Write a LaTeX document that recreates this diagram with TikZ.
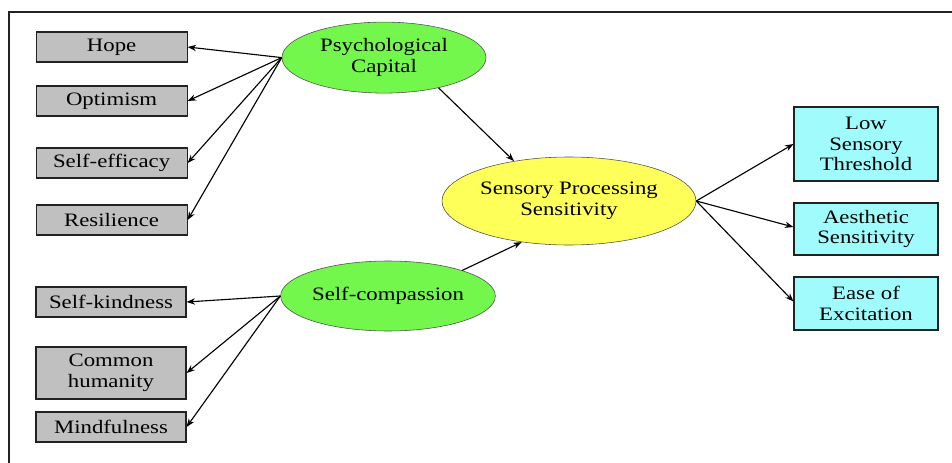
\documentclass[tikz,border=0pt]{standalone}
\usepackage{fontspec}
\setmainfont{Liberation Serif}[FakeStretch=1.2]
\usetikzlibrary{arrows.meta,shapes.geometric}
\definecolor{dimbox}{HTML}{C0C0C0}
\definecolor{latgreen}{HTML}{74F74C}
\definecolor{latyellow}{HTML}{FFFF5A}
\definecolor{outcyan}{HTML}{A0FCFC}
\definecolor{edge}{HTML}{222222}

\begin{document}
\begin{tikzpicture}[
  dim/.style={fill=dimbox, draw=edge, thick, minimum width=3.775cm,
              minimum height=0.75cm, align=center, inner sep=1pt},
  latent/.style={ellipse, draw=edge!80, align=center, inner sep=0pt},
  outbox/.style={fill=outcyan, draw=edge, thick, minimum width=3.6cm,
                 align=center, inner sep=1pt},
  path/.style={-{Stealth[length=6pt,width=4.5pt]}, black, thick},
  every node/.style={font=\fontsize{13.5}{14.8}\selectfont}
]
  \useasboundingbox (0,0) rectangle (23.8,-11.575);
  \draw[thick, edge] (0.225,-11.575) -- (0.225,-0.3) -- (23.8,-0.3);

  % ── Left: Psychological Capital dimensions ──
  \node[dim] (hope) at (2.79,-1.175) {Hope};
  \node[dim] (optimism) at (2.79,-2.525) {Optimism};
  \node[dim] (efficacy) at (2.79,-4.075) {Self-efficacy};
  \node[dim] (resilience) at (2.79,-5.5) {Resilience};

  % ── Left: Self-compassion dimensions ──
  \node[dim, minimum width=3.75cm] (kindness) at (2.775,-7.55) {Self-kindness};
  \node[dim, minimum width=3.75cm, minimum height=1.3cm] (humanity) at (2.775,-9.325)
    {Common\\humanity};
  \node[dim, minimum width=3.75cm] (mindful) at (2.775,-10.675) {Mindfulness};

  % ── Middle: latent variables ──
  \node[latent, fill=latgreen, minimum width=5.1cm, minimum height=1.775cm] (psycap)
    at (9.6,-1.44) {Psychological\\Capital};
  \node[latent, fill=latgreen, minimum width=5.3cm, minimum height=1.75cm] (selfcomp)
    at (9.7,-7.4) {Self-compassion};
  \node[latent, fill=latyellow, minimum width=6.35cm, minimum height=2.2cm] (sps)
    at (14.225,-5.025) {Sensory Processing\\Sensitivity};

  % ── Right: SPS dimensions ──
  \node[outbox, minimum height=1.85cm] (lst) at (21.65,-3.6)
    {Low\\Sensory\\Threshold};
  \node[outbox, minimum height=1.3cm] (aes) at (21.65,-5.725)
    {Aesthetic\\Sensitivity};
  \node[outbox, minimum height=1.325cm] (ease) at (21.65,-7.5875)
    {Ease of\\Excitation};

  % Arrows: latent → indicators
  \draw[path] (psycap.west) -- (hope.east);
  \draw[path] (psycap.west) -- (optimism.east);
  \draw[path] (psycap.west) -- (efficacy.east);
  \draw[path] (psycap.west) -- (resilience.east);
  \draw[path] (selfcomp.west) -- (kindness.east);
  \draw[path] (selfcomp.west) -- (humanity.east);
  \draw[path] (selfcomp.west) -- (mindful.east);

  % Arrows: predictors → SPS
  \draw[path] (psycap.-29) -- (sps.144);
  \draw[path] (selfcomp.19) -- (sps.-139);

  % Arrows: SPS → dimensions
  \draw[path] (sps.east) -- (lst.west);
  \draw[path] (sps.east) -- ([yshift=0.05cm]aes.west);
  \draw[path] (sps.east) -- ([yshift=0.05cm]ease.west);
\end{tikzpicture}
\end{document}
